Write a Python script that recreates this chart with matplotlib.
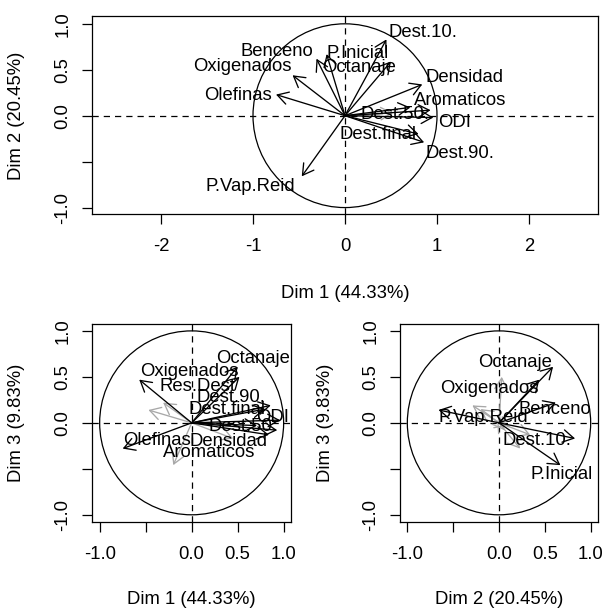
#------------------Círculos de correlación del ACP (Dim 1-2, 1-3, 2-3)------------------
import matplotlib
matplotlib.use("Agg")
import matplotlib.pyplot as plt
from matplotlib.patches import Circle

plt.rcParams['font.family'] = ['Liberation Sans', 'DejaVu Sans']
plt.rcParams['font.size'] = 13.3

# Variables y coordenadas (correlaciones) en cada dimensión
variables = ["Dest.10.", "Benceno", "P.Inicial", "Octanaje", "Oxigenados", "Olefinas",
             "Densidad", "Aromaticos", "Dest.50.", "ODI", "Dest.final", "Dest.90.",
             "P.Vap.Reid", "Res.Dest"]
dim1 = [0.45, -0.31, -0.20, 0.50, -0.57, -0.75, 0.84, 0.93, 0.71, 0.96, 0.80, 0.86, -0.47, 0.52]
dim2 = [0.83, 0.62, 0.67, 0.59, 0.44, 0.23, 0.34, 0.06, 0.09, -0.02, -0.20, -0.29, -0.66, 0.03]
dim3 = [-0.17, 0.22, -0.46, 0.61, 0.47, -0.28, -0.13, -0.08, -0.03, 0.03, 0.15, 0.19, 0.14, 0.50]
inercia = {1: "44.33", 2: "20.45", 3: "9.83"}

# Variables mal representadas en cada plano (flechas grises sin etiqueta)
grises_12 = ["Res.Dest"]
grises_13 = ["Dest.10.", "Benceno", "P.Inicial", "P.Vap.Reid"]
grises_23 = ["Olefinas", "Densidad", "Aromaticos", "Dest.50.", "ODI", "Dest.final",
             "Dest.90.", "Res.Dest"]

# Ubicación de las etiquetas (extremo izquierdo, centro vertical)
etiq_12 = {"Dest.10.": (0.47, 0.90), "Benceno": (-1.14, 0.70), "P.Inicial": (-0.20, 0.68),
           "Octanaje": (-0.25, 0.52), "Oxigenados": (-1.655, 0.54), "Olefinas": (-1.53, 0.22),
           "Densidad": (0.88, 0.42), "Aromaticos": (0.755, 0.17), "Dest.50.": (0.165, 0.01),
           "ODI": (1.015, -0.07), "Dest.final": (-0.06, -0.21), "Dest.90.": (0.88, -0.41),
           "P.Vap.Reid": (-1.52, -0.775)}
etiq_13 = {"Octanaje": (0.27, 0.70), "Oxigenados": (-0.56, 0.56), "Res.Dest": (-0.345, 0.39),
           "Dest.90.": (0.055, 0.28), "Dest.final": (-0.035, 0.15), "ODI": (0.70, 0.06),
           "Dest.50.": (0.18, -0.04), "Olefinas": (-0.745, -0.19), "Densidad": (-0.025, -0.20),
           "Aromaticos": (-0.31, -0.325)}
etiq_23 = {"Octanaje": (-0.225, 0.66), "Oxigenados": (-0.64, 0.37), "Benceno": (0.21, 0.15),
           "P.Vap.Reid": (-0.665, 0.06), "Dest.10.": (0.04, -0.19), "P.Inicial": (0.34, -0.565)}

W, H = 605, 610
fig = plt.figure(figsize=(W / 100, H / 100), dpi=100)

def caja(x0, y0, x1, y1):
    #Convierte una caja en píxeles a coordenadas de figura
    return [x0 / W, 1 - y1 / H, (x1 - x0) / W, (y1 - y0) / H]

def circulo(ax, dx, dy, grises, etiquetas, xlim, ylim, xt, xtl, yt, ytl):
    ax.set_xlim(*xlim)
    ax.set_ylim(*ylim)
    ax.add_patch(Circle((0, 0), 1, fill=False, color="black", lw=0.9))
    ax.axhline(0, color="black", lw=0.9, ls=(0, (5, 4)))
    ax.axvline(0, color="black", lw=0.9, ls=(0, (5, 4)))
    orden = [v for v in variables if v in grises] + [v for v in variables if v not in grises]
    for v in orden:
        i = variables.index(v)
        col = "#a8a8a8" if v in grises else "black"
        ax.annotate("", xy=(dx[i], dy[i]), xytext=(0, 0),
                    arrowprops=dict(arrowstyle="->,head_length=0.62,head_width=0.36",
                                    mutation_scale=12.5, lw=0.95, color=col,
                                    shrinkA=0, shrinkB=0))
    for v, (tx, ty) in etiquetas.items():
        ax.text(tx, ty, v, ha="left", va="center", color="black", zorder=5)
    ax.set_xticks(xt)
    ax.set_xticklabels(xtl)
    ax.set_yticks(yt)
    ax.set_yticklabels(ytl, rotation=90, va="center")
    ax.tick_params(direction="out", length=7.4, width=0.9)
    ax.tick_params(axis="x", pad=10)
    ax.tick_params(axis="y", pad=7.5)
    for s in ax.spines.values():
        s.set_linewidth(0.9)

yt = [-1.0, -0.5, 0.0, 0.5, 1.0]
ytl = ["-1.0", "", "0.0", "0.5", "1.0"]

# Plano 1-2
ax1 = fig.add_axes(caja(92, 16, 598, 214))
circulo(ax1, dim1, dim2, grises_12, etiq_12, (-2.75, 2.75), (-1.07, 1.085),
        [-2, -1, 0, 1, 2], ["-2", "-1", "0", "1", "2"], yt, ytl)
# Plano 1-3
ax2 = fig.add_axes(caja(92.3, 324, 291, 521.7))
circulo(ax2, dim1, dim3, grises_13, etiq_13, (-1.08, 1.08), (-1.075, 1.075),
        yt, ["-1.0", "", "0.0", "0.5", "1.0"], yt, ytl)
# Plano 2-3
ax3 = fig.add_axes(caja(400, 324, 598, 521.7))
circulo(ax3, dim2, dim3, grises_23, etiq_23, (-1.08, 1.08), (-1.075, 1.075),
        yt, ["-1.0", "", "0.0", "0.5", "1.0"], yt, ytl)

# Títulos de los ejes
def titulo(x, y, s, rot=0):
    fig.text(x / W, 1 - y / H, s, ha="center", va="center", rotation=rot)

titulo(345, 293, "Dim 1 (%s%%)" % inercia[1])
titulo(17, 116, "Dim 2 (%s%%)" % inercia[2], 90)
titulo(191.7, 599, "Dim 1 (%s%%)" % inercia[1])
titulo(17, 423, "Dim 3 (%s%%)" % inercia[3], 90)
titulo(499, 599, "Dim 2 (%s%%)" % inercia[2])
titulo(325, 423, "Dim 3 (%s%%)" % inercia[3], 90)

fig.savefig("out.png", dpi=100)
